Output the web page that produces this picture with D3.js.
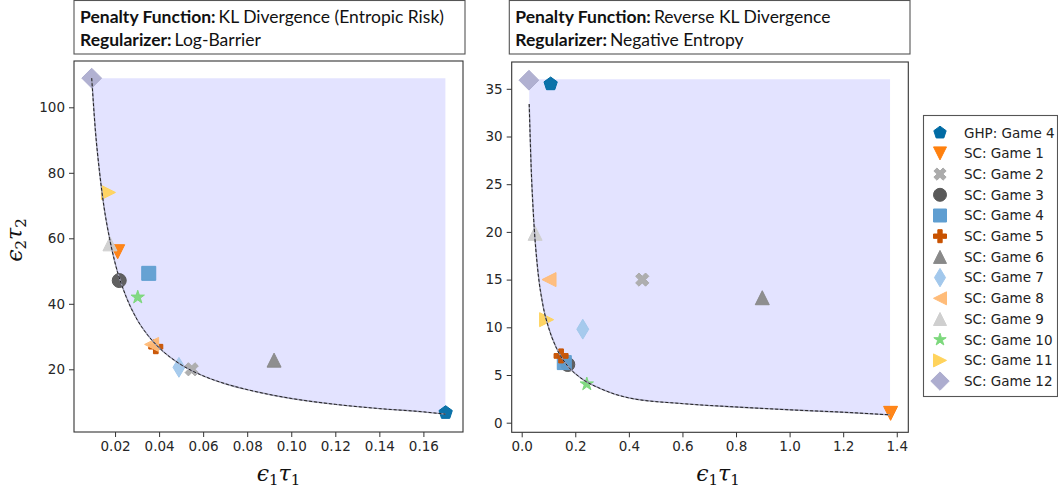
<!DOCTYPE html>
<html><head><meta charset="utf-8">
<script src="https://cdn.jsdelivr.net/npm/d3@7"></script>
<style>body{margin:0;background:#fff}svg{display:block}</style>
</head><body>
<svg id="c" width="1058" height="488"></svg>
<script>
// ---------- data ----------
const seriesNames = ["GHP: Game 4","SC: Game 1","SC: Game 2","SC: Game 3","SC: Game 4","SC: Game 5","SC: Game 6","SC: Game 7","SC: Game 8","SC: Game 9","SC: Game 10","SC: Game 11","SC: Game 12"];
const seriesColors = ["#006BA4","#FF800E","#ABABAB","#595959","#5F9ED1","#C85200","#898989","#A2C8EC","#FFBC79","#CFCFCF","#7CD87C","#FFD35C","#ADADCF"];
const seriesMarkers = ["pentagon","triDown","xFilled","circle","square","plusFilled","triUp","thinDiamond","triLeft","triUp","star","triRight","diamond"];

// left panel: KL divergence / log-barrier
const leftX = [0.1701,0.0212,0.0548,0.0219,0.0353,0.0385,0.0922,0.0490,0.0366,0.0177,0.0303,0.0170,0.0094];
const leftY = [6.75,55.9,20.0,47.1,49.3,26.9,22.8,20.6,27.6,58.3,42.0,74.0,108.9];
const leftCurveX = [0.0094,0.011,0.013,0.015,0.0175,0.020,0.025,0.030,0.035,0.040,0.050,0.060,0.070,0.080,0.100,0.120,0.140,0.160,0.170];
const leftCurveY = [108.9,93.5,80.0,69.5,60.0,52.5,42.2,35.2,30.3,26.6,21.4,18.0,15.6,13.8,11.1,9.3,8.0,7.0,6.3];
const leftTop = 108.9;
const leftXTicks = [0.02,0.04,0.06,0.08,0.10,0.12,0.14,0.16];
const leftYTicks = [20,40,60,80,100];

// right panel: reverse KL / negative entropy
const rightX = [0.108,1.377,0.450,0.172,0.159,0.147,0.898,0.228,0.102,0.050,0.243,0.093,0.027];
const rightY = [35.5,0.98,15.0,6.1,6.3,7.0,13.1,9.8,15.0,19.85,4.05,10.8,35.9];
const rightCurveX = [0.028,0.035,0.045,0.060,0.080,0.100,0.130,0.170,0.220,0.300,0.400,0.600,0.800,1.000,1.200,1.375];
const rightCurveY = [33.4,27.0,21.2,16.0,12.2,10.0,7.8,6.0,4.7,3.5,2.6,2.0,1.65,1.35,1.1,0.82];
const rightTop = 36.0;
const rightXTicks = [0.0,0.2,0.4,0.6,0.8,1.0,1.2,1.4];
const rightYTicks = [0,5,10,15,20,25,30,35];

const titleBold = ["Penalty Function:", "Regularizer:"];
const leftTitle = ["KL Divergence (Entropic Risk)", "Log-Barrier"];
const rightTitle = ["Reverse KL Divergence", "Negative Entropy"];

// ---------- markers ----------
const MS = 14;
function markerPath(type, s) {
  const h = s/2;
  const poly = pts => "M" + pts.map(p => p[0].toFixed(2)+","+p[1].toFixed(2)).join("L") + "Z";
  const rot = (pts, a) => pts.map(([x,y]) => [x*Math.cos(a)-y*Math.sin(a), x*Math.sin(a)+y*Math.cos(a)]);
  const tri = [[0,-h],[-h,h],[h,h]];
  const plus = [[-1,-3],[1,-3],[1,-1],[3,-1],[3,1],[1,1],[1,3],[-1,3],[-1,1],[-3,1],[-3,-1],[-1,-1]].map(([x,y])=>[x*s/6,y*s/6]);
  switch (type) {
    case "circle": return d3.symbol(d3.symbolCircle, Math.PI*h*h)();
    case "square": return poly([[-h,-h],[h,-h],[h,h],[-h,h]]);
    case "triUp": return poly(tri);
    case "triDown": return poly(rot(tri, Math.PI));
    case "triLeft": return poly(rot(tri, -Math.PI/2));
    case "triRight": return poly(rot(tri, Math.PI/2));
    case "diamond": { const d = h*Math.SQRT2; return poly([[0,-d],[d,0],[0,d],[-d,0]]); }
    case "thinDiamond": { const d = h*Math.SQRT2; return poly([[0,-d],[0.6*d,0],[0,d],[-0.6*d,0]]); }
    case "pentagon": { const pts=[]; for(let i=0;i<5;i++){const a=-Math.PI/2+i*2*Math.PI/5; pts.push([h*Math.cos(a),h*Math.sin(a)]);} return poly(pts); }
    case "star": { const pts=[]; for(let i=0;i<10;i++){const a=-Math.PI/2+i*Math.PI/5; const r=i%2?h*0.381966:h; pts.push([r*Math.cos(a),r*Math.sin(a)]);} return poly(pts); }
    case "plusFilled": return poly(plus);
    case "xFilled": return poly(rot(plus, Math.PI/4));
  }
}

const svg = d3.select("#c");
const axisColor = "#333";
const tickFont = "'DejaVu Sans', sans-serif";

function panel(opt) {
  const x = d3.scaleLinear().domain(opt.xDom).range([opt.x0, opt.x1]);
  const y = d3.scaleLinear().domain(opt.yDom).range([opt.y1, opt.y0]);
  const g = svg.append("g");

  // shaded feasible region
  const pts = opt.cx.map((v,i)=>[v, opt.cy[i]]);
  const area = d3.area().x(d=>x(d[0])).y0(()=>y(opt.top)).y1(d=>y(d[1])).curve(d3.curveMonotoneX);
  g.append("path").attr("d", area(pts)).attr("fill", "#0000ff").attr("fill-opacity", 0.11);

  // markers
  opt.px.forEach((vx,i)=>{
    g.append("path")
      .attr("d", markerPath(seriesMarkers[i], MS))
      .attr("transform", `translate(${x(vx)},${y(opt.py[i])})`)
      .attr("fill", seriesColors[i]).attr("stroke", seriesColors[i]).attr("stroke-width", 1)
      .attr("fill-opacity", 0.95);
  });

  // dashed frontier
  const line = d3.line().x(d=>x(d[0])).y(d=>y(d[1])).curve(d3.curveMonotoneX);
  g.append("path").attr("d", line(pts)).attr("fill","none")
    .attr("stroke","#9a9ab0").attr("stroke-width",1.4);
  g.append("path").attr("d", line(pts)).attr("fill","none")
    .attr("stroke","#222").attr("stroke-width",1).attr("stroke-dasharray","3,2");

  // axes
  const xa = g.append("g").attr("transform",`translate(0,${opt.y1})`)
    .call(d3.axisBottom(x).tickValues(opt.xt).tickSize(5).tickPadding(4).tickFormat(opt.xf));
  const ya = g.append("g").attr("transform",`translate(${opt.x0},0)`)
    .call(d3.axisLeft(y).tickValues(opt.yt).tickSize(5).tickPadding(4).tickFormat(d3.format("d")));
  [xa,ya].forEach(a=>{
    a.attr("font-family", null).attr("font-size", null);
    a.select(".domain").remove();
    a.selectAll("line").attr("stroke",axisColor);
    a.selectAll("text").attr("fill","#262626").style("font-family",tickFont).style("font-size","13.5px");
  });
  g.append("rect").attr("x",opt.x0).attr("y",opt.y0).attr("width",opt.x1-opt.x0).attr("height",opt.y1-opt.y0)
    .attr("fill","none").attr("stroke",axisColor).attr("stroke-width",1.1);

  // x label
  mathLabel(g, (opt.x0+opt.x1)/2 + opt.xlOff, 481, "1", 0);

  // title box
  g.append("rect").attr("x",opt.bx0).attr("y",0.5).attr("width",opt.bx1-opt.bx0).attr("height",53.5)
    .attr("fill","#fff").attr("stroke","#555").attr("stroke-width",1.1);
  opt.title.forEach((t,i)=>{
    const tx = g.append("text").attr("x",opt.bx0+6).attr("y",22.5+i*23)
      .style("font-family","Lato, 'Open Sans', sans-serif").style("font-size","17.5px").attr("fill","#111");
    tx.append("tspan").style("font-weight","bold").text(titleBold[i]);
    tx.append("tspan").attr("dx",3).text(t);
  });
  return {x,y};
}

function mathLabel(g, cx, cy, sub, rotate) {
  const t = g.append("text").attr("text-anchor","middle")
    .attr("transform", `translate(${cx},${cy}) rotate(${rotate})`)
    .style("font-family","'DejaVu Serif', serif").style("font-size","22px").attr("fill","#111");
  t.append("tspan").style("font-style","italic").text("\u03F5");
  t.append("tspan").attr("dy",4).style("font-size","15px").text(sub);
  t.append("tspan").attr("dy",-4).style("font-style","italic").text("\u03C4");
  t.append("tspan").attr("dy",4).style("font-size","15px").text(sub);
}

panel({x0:74,x1:463,y0:61,y1:432,
  xDom:[(74-71)/2202.5,(463-71)/2202.5], yDom:[(434.8-432)/3.275,(434.8-61)/3.275],
  cx:leftCurveX, cy:leftCurveY, top:leftTop, px:leftX, py:leftY,
  xt:leftXTicks, yt:leftYTicks, xf:d3.format(".2f"), xlOff:10,
  bx0:74, bx1:465, title:leftTitle});
panel({x0:511.7,x1:908.3,y0:62,y1:432.3,
  xDom:[(511.7-521.7)/267.9,(908.3-521.7)/267.9], yDom:[(422.7-432.3)/9.54,(422.7-62)/9.54],
  cx:rightCurveX, cy:rightCurveY, top:rightTop, px:rightX, py:rightY,
  xt:rightXTicks, yt:rightYTicks, xf:d3.format(".1f"), xlOff:8,
  bx0:509.3, bx1:910, title:rightTitle});

// y label (left only)
mathLabel(svg, 22, 240, "2", -90);

// legend
const lg = svg.append("g");
lg.append("rect").attr("x",923.5).attr("y",115.5).attr("width",134).attr("height",281)
  .attr("fill","#fff").attr("stroke","#555").attr("stroke-width",1.1);
seriesNames.forEach((n,i)=>{
  const cy = 132.7 + i*20.7;
  lg.append("path").attr("d", markerPath(seriesMarkers[i], 13))
    .attr("transform",`translate(940,${cy})`)
    .attr("fill",seriesColors[i]).attr("stroke",seriesColors[i]).attr("stroke-width",1);
  lg.append("text").attr("x",964).attr("y",cy+4.8).text(n)
    .style("font-family",tickFont).style("font-size","13.5px").attr("fill","#222");
});
</script>
</body></html>
